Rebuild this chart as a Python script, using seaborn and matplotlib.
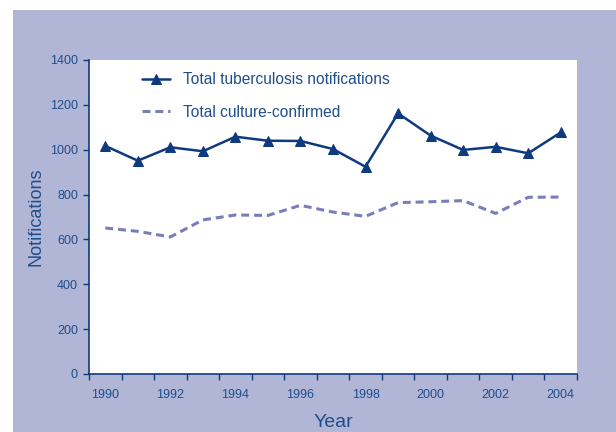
import matplotlib
matplotlib.use("Agg")
import matplotlib.pyplot as plt
import matplotlib.patches as mpatches
import seaborn as sns
import pandas as pd
import numpy as np

years = list(range(1990, 2005))
total_tb = [1017, 951, 1011, 993, 1058, 1040, 1039, 1003, 924, 1162, 1063, 999, 1013, 984, 1077]
culture_confirmed = [651, 636, 611, 687, 709, 707, 752, 722, 703, 764, 768, 773, 716, 788, 789]
series_names = ["Total tuberculosis notifications", "Total culture-confirmed"]

sns.set_theme(style="white")
plt.rcParams['font.family'] = ['Liberation Sans', 'DejaVu Sans']

navy = "#0f3a80"
dash_col = "#7a7eb8"
lav = "#b1b5d6"
txt = "#1f4e8c"

df = pd.DataFrame({"Year": years, series_names[0]: total_tb, series_names[1]: culture_confirmed})

fig = plt.figure(figsize=(6.16, 4.32), dpi=100)
fig.patch.set_facecolor("white")
bg = mpatches.Rectangle((13/616, 0), 1 - 13/616, 1 - 10/432,
                        transform=fig.transFigure, facecolor=lav,
                        edgecolor="none", zorder=-10)
fig.patches.append(bg)
ax = fig.add_axes([89/616, 1 - 374/432, (577-89)/616, (374-60)/432])
ax.set_zorder(5)
ax.set_facecolor("white")

dash = (0, (2.6, 1.6))
sns.lineplot(data=df, x="Year", y=series_names[0], ax=ax, color=navy, lw=1.8,
             marker="^", markersize=6.5, markeredgecolor=navy, label=series_names[0])
sns.lineplot(data=df, x="Year", y=series_names[1], ax=ax, color=dash_col, lw=2.2,
             label=series_names[1])
ax.lines[-1].set_linestyle(dash)

ax.set_xlim(1989.5, 2004.5)
ax.set_ylim(0, 1400)
ax.set_yticks(np.arange(0, 1401, 200))
ax.set_xticks(np.arange(1989.5, 2005, 1.0))
ax.set_xticklabels([])
ax.set_xticks(years[::2], minor=True)
ax.set_xticklabels([str(y) for y in years[::2]], minor=True)
ax.tick_params(axis="x", which="minor", length=0, pad=11, labelsize=9, labelcolor=txt)
ax.tick_params(axis="x", which="major", direction="out", length=4, width=1, color=navy, bottom=True)
ax.tick_params(axis="y", direction="out", length=4, width=1, color=navy, left=True,
               labelsize=9, labelcolor=txt, pad=4)

for s in ["top", "right"]:
    ax.spines[s].set_visible(False)
for s in ["left", "bottom"]:
    ax.spines[s].set_color(navy)
    ax.spines[s].set_linewidth(1.2)

ax.set_xlabel("Year", fontsize=14, color=txt, labelpad=9)
ax.set_ylabel("Notifications", fontsize=13, color=txt, labelpad=4)

leg = ax.legend(loc="upper left", bbox_to_anchor=(0.079, 1.005), frameon=False,
                fontsize=11.2, labelcolor=txt, handlelength=1.8, labelspacing=1.12,
                handletextpad=0.85)
leg.get_lines()[1].set_linestyle(dash)

fig.savefig("out.png", dpi=100, facecolor=fig.get_facecolor())
